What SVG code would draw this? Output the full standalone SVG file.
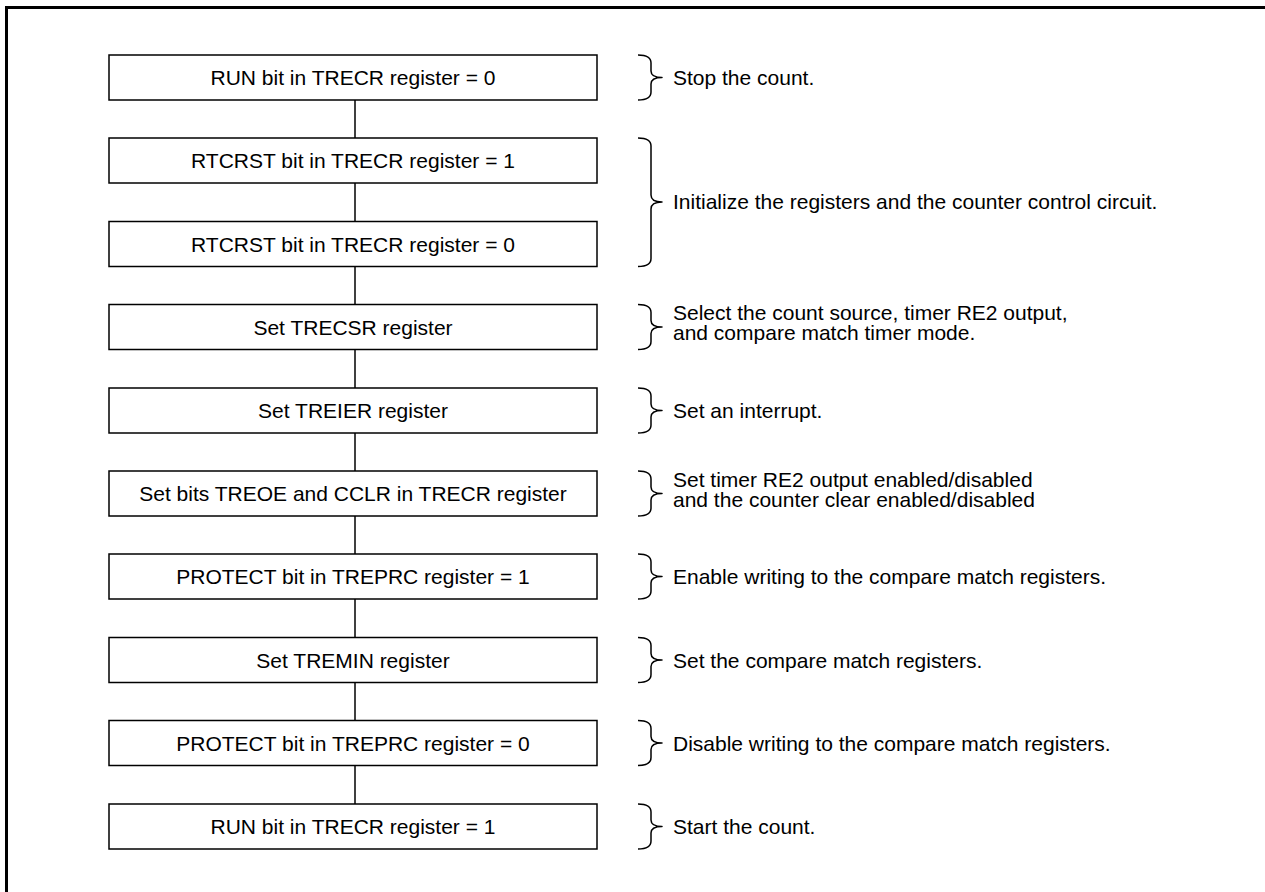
<svg xmlns="http://www.w3.org/2000/svg" width="1265" height="892" viewBox="0 0 1265 892">
<defs>
<style>
.box{fill:#fff;stroke:#000;stroke-width:1.5}
.bt{font-family:"Liberation Sans",Arial,sans-serif;font-size:21px;fill:#000;text-anchor:middle}
.st{font-family:"Liberation Sans",Arial,sans-serif;font-size:21px;fill:#000}
.ln{fill:none;stroke:#000;stroke-width:1.5}
.br{fill:none;stroke:#000;stroke-width:1.5;stroke-linejoin:round}
</style>
</defs>
<rect width="1265" height="892" fill="#fff"/>
<path d="M6.5,892 V7.5 H1265" fill="none" stroke="#000" stroke-width="3"/>
<g id="connectors">
<line class="ln" x1="355" y1="100" x2="355" y2="138"/>
<line class="ln" x1="355" y1="183" x2="355" y2="221.5"/>
<line class="ln" x1="355" y1="266.5" x2="355" y2="304.5"/>
<line class="ln" x1="355" y1="349.5" x2="355" y2="388"/>
<line class="ln" x1="355" y1="433" x2="355" y2="471"/>
<line class="ln" x1="355" y1="516" x2="355" y2="554"/>
<line class="ln" x1="355" y1="599" x2="355" y2="637.5"/>
<line class="ln" x1="355" y1="682.5" x2="355" y2="720.5"/>
<line class="ln" x1="355" y1="765.5" x2="355" y2="804"/>
</g>
<g id="n1"><rect class="box" x="109" y="55" width="488" height="45"/><text class="bt" x="353" y="85">RUN bit in TRECR register = 0</text></g>
<g id="n2"><rect class="box" x="109" y="138" width="488" height="45"/><text class="bt" x="353" y="168">RTCRST bit in TRECR register = 1</text></g>
<g id="n3"><rect class="box" x="109" y="221.5" width="488" height="45"/><text class="bt" x="353" y="251.5">RTCRST bit in TRECR register = 0</text></g>
<g id="n4"><rect class="box" x="109" y="304.5" width="488" height="45"/><text class="bt" x="353" y="334.5">Set TRECSR register</text></g>
<g id="n5"><rect class="box" x="109" y="388" width="488" height="45"/><text class="bt" x="353" y="418">Set TREIER register</text></g>
<g id="n6"><rect class="box" x="109" y="471" width="488" height="45"/><text class="bt" x="353" y="501">Set bits TREOE and CCLR in TRECR register</text></g>
<g id="n7"><rect class="box" x="109" y="554" width="488" height="45"/><text class="bt" x="353" y="584">PROTECT bit in TREPRC register = 1</text></g>
<g id="n8"><rect class="box" x="109" y="637.5" width="488" height="45"/><text class="bt" x="353" y="667.5">Set TREMIN register</text></g>
<g id="n9"><rect class="box" x="109" y="720.5" width="488" height="45"/><text class="bt" x="353" y="750.5">PROTECT bit in TREPRC register = 0</text></g>
<g id="n10"><rect class="box" x="109" y="804" width="488" height="45"/><text class="bt" x="353" y="834">RUN bit in TRECR register = 1</text></g>
<g id="a1"><path class="br" d="M638,55 Q651,55 651,63 V71 Q651,77.5 662,77.5 Q651,77.5 651,84 V92 Q651,100 638,100"/><text class="st" x="673" y="85">Stop the count.</text></g>
<g id="a2"><path class="br" d="M638,138 Q651,138 651,146 V195 Q651,202 662,202 Q651,202 651,209 V258.5 Q651,266.5 638,266.5"/><text class="st" x="673" y="209">Initialize the registers and the counter control circuit.</text></g>
<g id="a3"><path class="br" d="M638,304.5 Q651,304.5 651,312.5 V320.5 Q651,327 662,327 Q651,327 651,333.5 V341.5 Q651,349.5 638,349.5"/><text class="st" x="673" y="319.5">Select the count source, timer RE2 output,</text><text class="st" x="673" y="340">and compare match timer mode.</text></g>
<g id="a4"><path class="br" d="M638,388 Q651,388 651,396 V404 Q651,410.5 662,410.5 Q651,410.5 651,417 V425 Q651,433 638,433"/><text class="st" x="673" y="418">Set an interrupt.</text></g>
<g id="a5"><path class="br" d="M638,471 Q651,471 651,479 V487 Q651,493.5 662,493.5 Q651,493.5 651,500 V508 Q651,516 638,516"/><text class="st" x="673" y="486.5">Set timer RE2 output enabled/disabled</text><text class="st" x="673" y="507">and the counter clear enabled/disabled</text></g>
<g id="a6"><path class="br" d="M638,554 Q651,554 651,562 V570 Q651,576.5 662,576.5 Q651,576.5 651,583 V591 Q651,599 638,599"/><text class="st" x="673" y="584">Enable writing to the compare match registers.</text></g>
<g id="a7"><path class="br" d="M638,637.5 Q651,637.5 651,645.5 V653.5 Q651,660 662,660 Q651,660 651,666.5 V674.5 Q651,682.5 638,682.5"/><text class="st" x="673" y="667.5">Set the compare match registers.</text></g>
<g id="a8"><path class="br" d="M638,720.5 Q651,720.5 651,728.5 V736.5 Q651,743 662,743 Q651,743 651,749.5 V757.5 Q651,765.5 638,765.5"/><text class="st" x="673" y="750.5">Disable writing to the compare match registers.</text></g>
<g id="a9"><path class="br" d="M638,804 Q651,804 651,812 V820 Q651,826.5 662,826.5 Q651,826.5 651,833 V841 Q651,849 638,849"/><text class="st" x="673" y="834">Start the count.</text></g>
</svg>
